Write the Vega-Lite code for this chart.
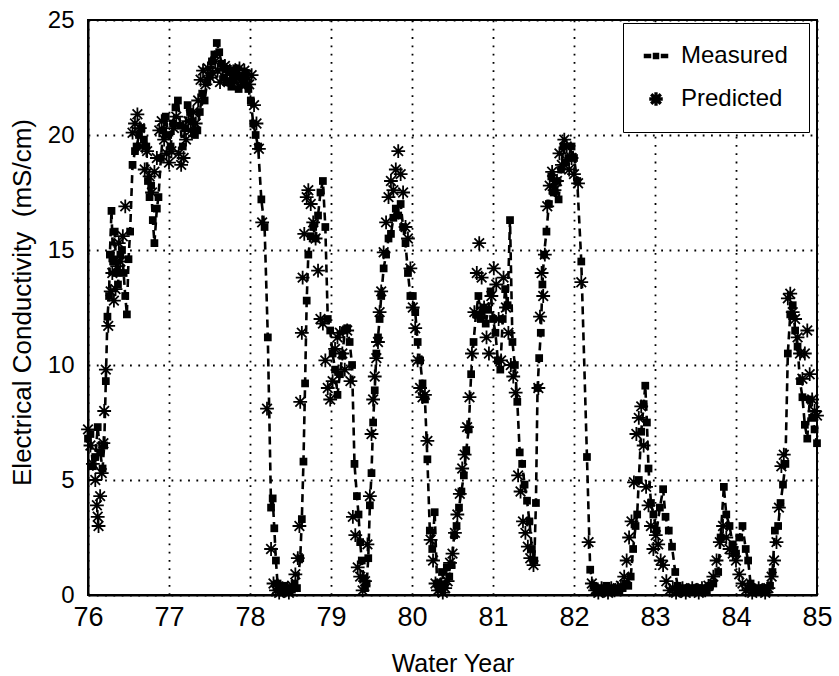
{
  "$schema": "https://vega.github.io/schema/vega-lite/v6.json",
  "width": 729,
  "height": 575,
  "autosize": "none",
  "padding": {"left": 88, "top": 20, "right": 22, "bottom": 81},
  "background": "white",
  "datasets": {
    "measured": [
      {"year": 76.00, "ec": 6.8}, {"year": 76.03, "ec": 7.0}, {"year": 76.06, "ec": 5.6}, {"year": 76.09, "ec": 6.0},
      {"year": 76.12, "ec": 7.3}, {"year": 76.15, "ec": 6.2}, {"year": 76.18, "ec": 5.5}, {"year": 76.20, "ec": 6.5},
      {"year": 76.22, "ec": 9.3}, {"year": 76.24, "ec": 12.1}, {"year": 76.26, "ec": 13.0}, {"year": 76.27, "ec": 14.8},
      {"year": 76.29, "ec": 16.7}, {"year": 76.31, "ec": 14.5}, {"year": 76.33, "ec": 15.8}, {"year": 76.35, "ec": 14.0},
      {"year": 76.37, "ec": 13.5}, {"year": 76.40, "ec": 14.8}, {"year": 76.42, "ec": 15.0}, {"year": 76.44, "ec": 14.0},
      {"year": 76.46, "ec": 13.0}, {"year": 76.48, "ec": 12.2}, {"year": 76.50, "ec": 14.6}, {"year": 76.52, "ec": 15.8},
      {"year": 76.55, "ec": 18.7}, {"year": 76.58, "ec": 19.3}, {"year": 76.60, "ec": 19.5}, {"year": 76.63, "ec": 20.0},
      {"year": 76.66, "ec": 20.3}, {"year": 76.69, "ec": 19.8}, {"year": 76.72, "ec": 19.5}, {"year": 76.74, "ec": 18.0},
      {"year": 76.76, "ec": 17.3}, {"year": 76.78, "ec": 17.8}, {"year": 76.80, "ec": 16.3}, {"year": 76.82, "ec": 15.3},
      {"year": 76.85, "ec": 16.8}, {"year": 76.87, "ec": 17.3}, {"year": 76.90, "ec": 19.0}, {"year": 76.93, "ec": 20.2},
      {"year": 76.96, "ec": 20.8}, {"year": 76.99, "ec": 20.0}, {"year": 77.02, "ec": 19.5}, {"year": 77.05, "ec": 20.5},
      {"year": 77.08, "ec": 21.2}, {"year": 77.11, "ec": 21.5}, {"year": 77.14, "ec": 20.4}, {"year": 77.17, "ec": 19.5},
      {"year": 77.20, "ec": 20.3}, {"year": 77.23, "ec": 21.3}, {"year": 77.26, "ec": 21.0}, {"year": 77.29, "ec": 20.6},
      {"year": 77.32, "ec": 20.0}, {"year": 77.35, "ec": 20.2}, {"year": 77.38, "ec": 21.0}, {"year": 77.41, "ec": 21.8},
      {"year": 77.44, "ec": 21.5}, {"year": 77.47, "ec": 22.3}, {"year": 77.50, "ec": 22.6}, {"year": 77.53, "ec": 23.2},
      {"year": 77.56, "ec": 23.5}, {"year": 77.59, "ec": 24.0}, {"year": 77.62, "ec": 23.6}, {"year": 77.65, "ec": 23.1},
      {"year": 77.68, "ec": 22.5}, {"year": 77.71, "ec": 22.3}, {"year": 77.74, "ec": 22.8}, {"year": 77.77, "ec": 22.1},
      {"year": 77.80, "ec": 22.4}, {"year": 77.83, "ec": 22.9}, {"year": 77.86, "ec": 22.0}, {"year": 77.89, "ec": 22.5},
      {"year": 77.92, "ec": 22.2}, {"year": 77.95, "ec": 22.7}, {"year": 77.98, "ec": 22.0}, {"year": 78.01, "ec": 21.5},
      {"year": 78.04, "ec": 20.5}, {"year": 78.07, "ec": 20.0}, {"year": 78.10, "ec": 19.5}, {"year": 78.14, "ec": 17.2},
      {"year": 78.18, "ec": 16.0}, {"year": 78.22, "ec": 11.2}, {"year": 78.26, "ec": 3.8}, {"year": 78.28, "ec": 4.2},
      {"year": 78.30, "ec": 2.9}, {"year": 78.32, "ec": 1.5}, {"year": 78.34, "ec": 0.5}, {"year": 78.37, "ec": 0.3},
      {"year": 78.40, "ec": 0.2}, {"year": 78.43, "ec": 0.4}, {"year": 78.46, "ec": 0.3}, {"year": 78.49, "ec": 0.2},
      {"year": 78.52, "ec": 0.3}, {"year": 78.55, "ec": 0.5}, {"year": 78.58, "ec": 0.3}, {"year": 78.62, "ec": 1.6},
      {"year": 78.64, "ec": 3.3}, {"year": 78.66, "ec": 5.8}, {"year": 78.68, "ec": 9.2}, {"year": 78.70, "ec": 12.8},
      {"year": 78.72, "ec": 14.8}, {"year": 78.75, "ec": 15.6}, {"year": 78.78, "ec": 16.0}, {"year": 78.81, "ec": 15.5},
      {"year": 78.84, "ec": 16.5}, {"year": 78.87, "ec": 17.5}, {"year": 78.90, "ec": 18.0}, {"year": 78.93, "ec": 16.0},
      {"year": 78.96, "ec": 12.0}, {"year": 78.99, "ec": 11.5}, {"year": 79.02, "ec": 10.5}, {"year": 79.05, "ec": 9.8},
      {"year": 79.08, "ec": 8.7}, {"year": 79.11, "ec": 9.6}, {"year": 79.14, "ec": 10.4}, {"year": 79.17, "ec": 11.5},
      {"year": 79.20, "ec": 11.6}, {"year": 79.23, "ec": 11.0}, {"year": 79.26, "ec": 10.0}, {"year": 79.29, "ec": 5.7},
      {"year": 79.32, "ec": 4.3}, {"year": 79.34, "ec": 3.5}, {"year": 79.36, "ec": 2.3}, {"year": 79.38, "ec": 1.5},
      {"year": 79.40, "ec": 0.7}, {"year": 79.42, "ec": 0.3}, {"year": 79.44, "ec": 0.5}, {"year": 79.46, "ec": 1.6},
      {"year": 79.48, "ec": 3.9}, {"year": 79.50, "ec": 5.3}, {"year": 79.52, "ec": 7.5}, {"year": 79.54, "ec": 8.9},
      {"year": 79.56, "ec": 10.5}, {"year": 79.58, "ec": 11.2}, {"year": 79.60, "ec": 12.0}, {"year": 79.62, "ec": 13.0},
      {"year": 79.65, "ec": 14.2}, {"year": 79.68, "ec": 14.8}, {"year": 79.71, "ec": 15.5}, {"year": 79.74, "ec": 15.7},
      {"year": 79.77, "ec": 16.4}, {"year": 79.80, "ec": 16.8}, {"year": 79.83, "ec": 16.5}, {"year": 79.86, "ec": 17.0},
      {"year": 79.89, "ec": 16.0}, {"year": 79.92, "ec": 15.3}, {"year": 79.95, "ec": 14.0}, {"year": 79.98, "ec": 13.0},
      {"year": 80.01, "ec": 13.0}, {"year": 80.04, "ec": 12.3}, {"year": 80.07, "ec": 11.0}, {"year": 80.10, "ec": 10.2},
      {"year": 80.13, "ec": 9.2}, {"year": 80.16, "ec": 8.5}, {"year": 80.19, "ec": 5.9}, {"year": 80.22, "ec": 2.8},
      {"year": 80.25, "ec": 2.0}, {"year": 80.28, "ec": 3.6}, {"year": 80.31, "ec": 0.5}, {"year": 80.34, "ec": 0.3},
      {"year": 80.37, "ec": 1.0}, {"year": 80.40, "ec": 0.4}, {"year": 80.43, "ec": 1.2}, {"year": 80.46, "ec": 0.8},
      {"year": 80.49, "ec": 1.3}, {"year": 80.52, "ec": 2.6}, {"year": 80.55, "ec": 3.0}, {"year": 80.58, "ec": 3.8},
      {"year": 80.61, "ec": 4.5}, {"year": 80.64, "ec": 5.2}, {"year": 80.67, "ec": 6.3}, {"year": 80.70, "ec": 7.2},
      {"year": 80.73, "ec": 9.6}, {"year": 80.76, "ec": 11.0}, {"year": 80.79, "ec": 12.2}, {"year": 80.82, "ec": 13.0},
      {"year": 80.85, "ec": 12.0}, {"year": 80.88, "ec": 12.5}, {"year": 80.91, "ec": 11.8}, {"year": 80.94, "ec": 12.4},
      {"year": 80.97, "ec": 13.2}, {"year": 81.00, "ec": 12.0}, {"year": 81.03, "ec": 11.4}, {"year": 81.06, "ec": 10.2},
      {"year": 81.09, "ec": 9.8}, {"year": 81.12, "ec": 12.0}, {"year": 81.15, "ec": 13.3}, {"year": 81.18, "ec": 12.6},
      {"year": 81.21, "ec": 16.3}, {"year": 81.24, "ec": 11.0}, {"year": 81.27, "ec": 10.0}, {"year": 81.30, "ec": 8.4},
      {"year": 81.33, "ec": 6.2}, {"year": 81.36, "ec": 5.7}, {"year": 81.39, "ec": 4.8}, {"year": 81.42, "ec": 4.1},
      {"year": 81.45, "ec": 3.2}, {"year": 81.48, "ec": 2.0}, {"year": 81.51, "ec": 1.5}, {"year": 81.53, "ec": 4.0},
      {"year": 81.55, "ec": 9.0}, {"year": 81.57, "ec": 10.3}, {"year": 81.59, "ec": 11.4}, {"year": 81.61, "ec": 13.5},
      {"year": 81.63, "ec": 14.8}, {"year": 81.66, "ec": 15.8}, {"year": 81.69, "ec": 17.0}, {"year": 81.72, "ec": 18.2},
      {"year": 81.75, "ec": 17.5}, {"year": 81.78, "ec": 18.0}, {"year": 81.81, "ec": 17.2}, {"year": 81.84, "ec": 18.5},
      {"year": 81.87, "ec": 19.5}, {"year": 81.90, "ec": 18.8}, {"year": 81.93, "ec": 19.0}, {"year": 81.97, "ec": 19.5},
      {"year": 82.00, "ec": 19.0}, {"year": 82.04, "ec": 18.0}, {"year": 82.09, "ec": 14.5}, {"year": 82.16, "ec": 6.0},
      {"year": 82.20, "ec": 1.1}, {"year": 82.24, "ec": 0.4}, {"year": 82.28, "ec": 0.2}, {"year": 82.32, "ec": 0.3},
      {"year": 82.36, "ec": 0.2}, {"year": 82.40, "ec": 0.4}, {"year": 82.44, "ec": 0.3}, {"year": 82.48, "ec": 0.2},
      {"year": 82.52, "ec": 0.3}, {"year": 82.56, "ec": 0.2}, {"year": 82.60, "ec": 0.3}, {"year": 82.64, "ec": 0.5},
      {"year": 82.67, "ec": 0.4}, {"year": 82.70, "ec": 0.8}, {"year": 82.73, "ec": 2.0}, {"year": 82.76, "ec": 3.0},
      {"year": 82.78, "ec": 3.5}, {"year": 82.80, "ec": 5.0}, {"year": 82.83, "ec": 7.1}, {"year": 82.86, "ec": 8.3},
      {"year": 82.88, "ec": 9.1}, {"year": 82.90, "ec": 7.5}, {"year": 82.92, "ec": 5.5}, {"year": 82.95, "ec": 4.0},
      {"year": 82.98, "ec": 3.5}, {"year": 83.02, "ec": 2.8}, {"year": 83.06, "ec": 3.8}, {"year": 83.10, "ec": 4.6},
      {"year": 83.13, "ec": 3.4}, {"year": 83.17, "ec": 2.8}, {"year": 83.21, "ec": 2.1}, {"year": 83.25, "ec": 1.0},
      {"year": 83.28, "ec": 0.4}, {"year": 83.32, "ec": 0.2}, {"year": 83.36, "ec": 0.3}, {"year": 83.40, "ec": 0.2},
      {"year": 83.44, "ec": 0.3}, {"year": 83.48, "ec": 0.2}, {"year": 83.52, "ec": 0.3}, {"year": 83.56, "ec": 0.2},
      {"year": 83.60, "ec": 0.3}, {"year": 83.64, "ec": 0.2}, {"year": 83.68, "ec": 0.4}, {"year": 83.72, "ec": 0.5},
      {"year": 83.78, "ec": 1.0}, {"year": 83.81, "ec": 2.5}, {"year": 83.85, "ec": 4.7}, {"year": 83.88, "ec": 3.5},
      {"year": 83.92, "ec": 3.0}, {"year": 83.96, "ec": 2.2}, {"year": 84.00, "ec": 1.8}, {"year": 84.04, "ec": 2.5},
      {"year": 84.08, "ec": 3.0}, {"year": 84.12, "ec": 2.0}, {"year": 84.15, "ec": 1.5}, {"year": 84.18, "ec": 0.5},
      {"year": 84.22, "ec": 0.2}, {"year": 84.26, "ec": 0.3}, {"year": 84.30, "ec": 0.2}, {"year": 84.34, "ec": 0.3},
      {"year": 84.38, "ec": 0.2}, {"year": 84.42, "ec": 0.4}, {"year": 84.45, "ec": 1.0}, {"year": 84.48, "ec": 2.8},
      {"year": 84.52, "ec": 3.0}, {"year": 84.55, "ec": 4.0}, {"year": 84.58, "ec": 4.8}, {"year": 84.61, "ec": 5.7},
      {"year": 84.64, "ec": 10.5}, {"year": 84.67, "ec": 12.2}, {"year": 84.70, "ec": 12.6}, {"year": 84.73, "ec": 11.5},
      {"year": 84.76, "ec": 10.8}, {"year": 84.79, "ec": 9.3}, {"year": 84.82, "ec": 8.6}, {"year": 84.85, "ec": 7.4},
      {"year": 84.88, "ec": 6.8}, {"year": 84.91, "ec": 8.5}, {"year": 84.94, "ec": 7.7}, {"year": 84.97, "ec": 7.2},
      {"year": 85.00, "ec": 6.6}
    ],
    "predicted": [
      {"year": 76.00, "ec": 7.2}, {"year": 76.03, "ec": 6.5}, {"year": 76.06, "ec": 5.7}, {"year": 76.09, "ec": 5.0},
      {"year": 76.11, "ec": 3.9}, {"year": 76.12, "ec": 3.4}, {"year": 76.13, "ec": 3.0}, {"year": 76.15, "ec": 4.3},
      {"year": 76.17, "ec": 5.3}, {"year": 76.19, "ec": 6.6}, {"year": 76.20, "ec": 8.0}, {"year": 76.22, "ec": 9.8},
      {"year": 76.25, "ec": 11.7}, {"year": 76.28, "ec": 13.2}, {"year": 76.30, "ec": 14.0}, {"year": 76.32, "ec": 12.8},
      {"year": 76.34, "ec": 13.3}, {"year": 76.36, "ec": 14.3}, {"year": 76.38, "ec": 15.3}, {"year": 76.40, "ec": 14.5},
      {"year": 76.43, "ec": 15.6}, {"year": 76.46, "ec": 16.9}, {"year": 76.55, "ec": 20.1}, {"year": 76.58, "ec": 20.5},
      {"year": 76.61, "ec": 20.9}, {"year": 76.64, "ec": 20.3}, {"year": 76.67, "ec": 19.5}, {"year": 76.70, "ec": 18.5},
      {"year": 76.73, "ec": 19.3}, {"year": 76.76, "ec": 18.2}, {"year": 76.79, "ec": 17.5}, {"year": 76.82, "ec": 18.4},
      {"year": 76.85, "ec": 19.0}, {"year": 76.88, "ec": 20.2}, {"year": 76.91, "ec": 20.6}, {"year": 76.94, "ec": 19.8},
      {"year": 76.97, "ec": 19.2}, {"year": 77.00, "ec": 18.8}, {"year": 77.03, "ec": 19.3}, {"year": 77.06, "ec": 20.3},
      {"year": 77.09, "ec": 20.8}, {"year": 77.12, "ec": 19.2}, {"year": 77.15, "ec": 18.7}, {"year": 77.18, "ec": 19.0},
      {"year": 77.21, "ec": 19.8}, {"year": 77.24, "ec": 20.6}, {"year": 77.27, "ec": 20.2}, {"year": 77.30, "ec": 21.0},
      {"year": 77.33, "ec": 20.5}, {"year": 77.36, "ec": 21.5}, {"year": 77.39, "ec": 22.4}, {"year": 77.42, "ec": 22.8},
      {"year": 77.45, "ec": 22.2}, {"year": 77.48, "ec": 22.9}, {"year": 77.51, "ec": 22.5}, {"year": 77.54, "ec": 22.7},
      {"year": 77.57, "ec": 23.2}, {"year": 77.60, "ec": 22.8}, {"year": 77.63, "ec": 22.3}, {"year": 77.66, "ec": 22.9},
      {"year": 77.69, "ec": 23.0}, {"year": 77.72, "ec": 22.4}, {"year": 77.75, "ec": 22.8}, {"year": 77.78, "ec": 22.6},
      {"year": 77.81, "ec": 22.3}, {"year": 77.84, "ec": 22.7}, {"year": 77.87, "ec": 22.9}, {"year": 77.90, "ec": 22.3},
      {"year": 77.93, "ec": 22.8}, {"year": 77.96, "ec": 22.5}, {"year": 77.99, "ec": 22.2}, {"year": 78.02, "ec": 22.6},
      {"year": 78.05, "ec": 21.3}, {"year": 78.08, "ec": 20.5}, {"year": 78.11, "ec": 19.4}, {"year": 78.15, "ec": 16.2},
      {"year": 78.21, "ec": 8.1}, {"year": 78.26, "ec": 2.0}, {"year": 78.29, "ec": 0.5}, {"year": 78.32, "ec": 0.2},
      {"year": 78.36, "ec": 0.1}, {"year": 78.40, "ec": 0.3}, {"year": 78.44, "ec": 0.2}, {"year": 78.48, "ec": 0.1},
      {"year": 78.52, "ec": 0.4}, {"year": 78.56, "ec": 0.9}, {"year": 78.59, "ec": 1.6}, {"year": 78.61, "ec": 3.0},
      {"year": 78.62, "ec": 8.4}, {"year": 78.64, "ec": 11.4}, {"year": 78.65, "ec": 13.8}, {"year": 78.67, "ec": 15.7},
      {"year": 78.70, "ec": 17.3}, {"year": 78.72, "ec": 17.6}, {"year": 78.75, "ec": 17.0}, {"year": 78.78, "ec": 16.2},
      {"year": 78.81, "ec": 15.5}, {"year": 78.84, "ec": 14.1}, {"year": 78.87, "ec": 12.0}, {"year": 78.90, "ec": 11.8},
      {"year": 78.93, "ec": 10.2}, {"year": 78.96, "ec": 9.0}, {"year": 78.99, "ec": 8.5}, {"year": 79.02, "ec": 9.3},
      {"year": 79.05, "ec": 10.7}, {"year": 79.08, "ec": 11.2}, {"year": 79.11, "ec": 11.4}, {"year": 79.14, "ec": 10.5},
      {"year": 79.17, "ec": 9.8}, {"year": 79.20, "ec": 11.5}, {"year": 79.24, "ec": 9.3}, {"year": 79.27, "ec": 3.4},
      {"year": 79.30, "ec": 2.6}, {"year": 79.33, "ec": 1.2}, {"year": 79.36, "ec": 0.8}, {"year": 79.39, "ec": 0.2},
      {"year": 79.42, "ec": 0.6}, {"year": 79.45, "ec": 2.2}, {"year": 79.48, "ec": 4.3}, {"year": 79.50, "ec": 7.0},
      {"year": 79.52, "ec": 8.5}, {"year": 79.54, "ec": 9.5}, {"year": 79.56, "ec": 10.3}, {"year": 79.58, "ec": 11.0},
      {"year": 79.60, "ec": 12.3}, {"year": 79.62, "ec": 13.2}, {"year": 79.65, "ec": 14.9}, {"year": 79.68, "ec": 16.2},
      {"year": 79.71, "ec": 17.3}, {"year": 79.74, "ec": 18.0}, {"year": 79.77, "ec": 17.6}, {"year": 79.80, "ec": 18.5},
      {"year": 79.83, "ec": 19.3}, {"year": 79.86, "ec": 18.3}, {"year": 79.89, "ec": 17.5}, {"year": 79.92, "ec": 16.0},
      {"year": 79.95, "ec": 15.5}, {"year": 79.98, "ec": 14.2}, {"year": 80.01, "ec": 12.5}, {"year": 80.04, "ec": 11.6},
      {"year": 80.07, "ec": 10.2}, {"year": 80.10, "ec": 9.0}, {"year": 80.13, "ec": 8.6}, {"year": 80.16, "ec": 8.7},
      {"year": 80.19, "ec": 6.7}, {"year": 80.23, "ec": 2.4}, {"year": 80.26, "ec": 1.5}, {"year": 80.29, "ec": 0.5},
      {"year": 80.32, "ec": 0.2}, {"year": 80.35, "ec": 0.4}, {"year": 80.38, "ec": 0.1}, {"year": 80.41, "ec": 0.3},
      {"year": 80.44, "ec": 0.6}, {"year": 80.47, "ec": 1.4}, {"year": 80.50, "ec": 1.8}, {"year": 80.53, "ec": 2.7},
      {"year": 80.56, "ec": 3.5}, {"year": 80.59, "ec": 4.4}, {"year": 80.62, "ec": 5.5}, {"year": 80.65, "ec": 6.1},
      {"year": 80.68, "ec": 7.3}, {"year": 80.71, "ec": 8.6}, {"year": 80.74, "ec": 10.5}, {"year": 80.77, "ec": 12.3},
      {"year": 80.80, "ec": 14.0}, {"year": 80.83, "ec": 15.3}, {"year": 80.86, "ec": 13.8}, {"year": 80.89, "ec": 12.5},
      {"year": 80.92, "ec": 11.2}, {"year": 80.95, "ec": 10.5}, {"year": 80.98, "ec": 13.0}, {"year": 81.01, "ec": 14.2},
      {"year": 81.04, "ec": 13.5}, {"year": 81.07, "ec": 12.0}, {"year": 81.10, "ec": 10.2}, {"year": 81.13, "ec": 13.8},
      {"year": 81.16, "ec": 12.5}, {"year": 81.19, "ec": 11.4}, {"year": 81.22, "ec": 10.0}, {"year": 81.25, "ec": 9.5},
      {"year": 81.28, "ec": 8.8}, {"year": 81.31, "ec": 5.2}, {"year": 81.34, "ec": 4.5}, {"year": 81.37, "ec": 3.2},
      {"year": 81.40, "ec": 2.7}, {"year": 81.43, "ec": 2.1}, {"year": 81.46, "ec": 1.6}, {"year": 81.50, "ec": 1.3},
      {"year": 81.56, "ec": 9.0}, {"year": 81.58, "ec": 12.1}, {"year": 81.60, "ec": 14.0}, {"year": 81.62, "ec": 13.0},
      {"year": 81.64, "ec": 14.8}, {"year": 81.67, "ec": 16.9}, {"year": 81.70, "ec": 17.8}, {"year": 81.73, "ec": 18.4},
      {"year": 81.76, "ec": 17.6}, {"year": 81.79, "ec": 18.0}, {"year": 81.82, "ec": 19.2}, {"year": 81.85, "ec": 18.7},
      {"year": 81.88, "ec": 19.8}, {"year": 81.91, "ec": 19.5}, {"year": 81.94, "ec": 18.5}, {"year": 81.97, "ec": 19.0},
      {"year": 82.00, "ec": 18.3}, {"year": 82.05, "ec": 17.9}, {"year": 82.09, "ec": 13.6}, {"year": 82.18, "ec": 2.3},
      {"year": 82.22, "ec": 0.5}, {"year": 82.26, "ec": 0.2}, {"year": 82.30, "ec": 0.1}, {"year": 82.34, "ec": 0.3},
      {"year": 82.38, "ec": 0.2}, {"year": 82.42, "ec": 0.1}, {"year": 82.46, "ec": 0.3}, {"year": 82.50, "ec": 0.2},
      {"year": 82.54, "ec": 0.3}, {"year": 82.58, "ec": 0.4}, {"year": 82.62, "ec": 0.8}, {"year": 82.65, "ec": 1.5},
      {"year": 82.68, "ec": 2.5}, {"year": 82.71, "ec": 3.2}, {"year": 82.74, "ec": 4.9}, {"year": 82.77, "ec": 7.0},
      {"year": 82.80, "ec": 7.7}, {"year": 82.83, "ec": 8.2}, {"year": 82.86, "ec": 6.5}, {"year": 82.89, "ec": 4.7},
      {"year": 82.92, "ec": 3.9}, {"year": 82.95, "ec": 3.0}, {"year": 82.98, "ec": 2.0}, {"year": 83.01, "ec": 2.6},
      {"year": 83.04, "ec": 2.2}, {"year": 83.07, "ec": 1.5}, {"year": 83.10, "ec": 1.3}, {"year": 83.14, "ec": 0.6},
      {"year": 83.18, "ec": 0.2}, {"year": 83.22, "ec": 0.3}, {"year": 83.26, "ec": 0.1}, {"year": 83.30, "ec": 0.2},
      {"year": 83.34, "ec": 0.3}, {"year": 83.38, "ec": 0.1}, {"year": 83.42, "ec": 0.2}, {"year": 83.46, "ec": 0.3},
      {"year": 83.50, "ec": 0.2}, {"year": 83.54, "ec": 0.1}, {"year": 83.58, "ec": 0.3}, {"year": 83.62, "ec": 0.2},
      {"year": 83.66, "ec": 0.4}, {"year": 83.72, "ec": 0.8}, {"year": 83.76, "ec": 1.5}, {"year": 83.80, "ec": 2.3},
      {"year": 83.84, "ec": 3.0}, {"year": 83.88, "ec": 2.5}, {"year": 83.92, "ec": 2.0}, {"year": 83.96, "ec": 1.8},
      {"year": 84.00, "ec": 1.5}, {"year": 84.04, "ec": 0.9}, {"year": 84.08, "ec": 0.5}, {"year": 84.12, "ec": 0.2},
      {"year": 84.16, "ec": 0.3}, {"year": 84.20, "ec": 0.1}, {"year": 84.24, "ec": 0.2}, {"year": 84.28, "ec": 0.3},
      {"year": 84.32, "ec": 0.2}, {"year": 84.36, "ec": 0.1}, {"year": 84.40, "ec": 0.3}, {"year": 84.44, "ec": 0.8},
      {"year": 84.47, "ec": 1.5}, {"year": 84.50, "ec": 2.3}, {"year": 84.53, "ec": 3.8}, {"year": 84.56, "ec": 5.6},
      {"year": 84.59, "ec": 6.1}, {"year": 84.64, "ec": 12.9}, {"year": 84.67, "ec": 13.1}, {"year": 84.70, "ec": 12.3},
      {"year": 84.73, "ec": 12.0}, {"year": 84.76, "ec": 11.2}, {"year": 84.79, "ec": 10.5}, {"year": 84.82, "ec": 9.4},
      {"year": 84.85, "ec": 10.5}, {"year": 84.88, "ec": 11.5}, {"year": 84.91, "ec": 9.6}, {"year": 84.94, "ec": 8.5},
      {"year": 84.97, "ec": 8.0}, {"year": 85.00, "ec": 7.8}
    ]
  },
  "encoding": {
    "x": {
      "field": "year",
      "type": "quantitative",
      "title": "Water Year",
      "scale": {"domain": [76, 85], "nice": false, "zero": false},
      "axis": {
        "values": [76, 77, 78, 79, 80, 81, 82, 83, 84, 85],
        "format": "d",
        "labelFontSize": 27,
        "labelPadding": 9,
        "titleFontSize": 25,
        "titlePadding": 21
      }
    },
    "y": {
      "field": "ec",
      "type": "quantitative",
      "title": "Electrical Conductivity\u00a0\u00a0(mS/cm)",
      "scale": {"domain": [0, 25], "nice": false},
      "axis": {
        "values": [0, 5, 10, 15, 20, 25],
        "labelFontSize": 24,
        "labelPadding": 14,
        "titleFontSize": 26,
        "titleY": 282,
        "titlePadding": 12
      }
    }
  },
  "layer": [
    {
      "data": {"name": "measured"},
      "mark": {"type": "line", "color": "black", "strokeWidth": 2.6, "strokeDash": [8, 5]},
      "encoding": {}
    },
    {
      "data": {"name": "measured"},
      "mark": {"type": "point", "shape": "square", "filled": true, "color": "black", "size": 60, "opacity": 1}
    },
    {
      "data": {"name": "predicted"},
      "mark": {
        "type": "point",
        "shape": "M-1,0L1,0M0,-1L0,1M-0.7,-0.7L0.7,0.7M-0.7,0.7L0.7,-0.7",
        "filled": false,
        "color": "black",
        "size": 190,
        "strokeWidth": 1.8,
        "opacity": 1
      }
    },
    {
      "data": {"name": "measured"},
      "mark": {"type": "point", "fill": "black", "stroke": "black", "strokeWidth": 2, "opacity": 0},
      "encoding": {
        "shape": {
          "datum": "Measured",
          "type": "nominal",
          "title": null,
          "scale": {
            "domain": ["Measured", "Predicted"],
            "range": [
              "M-0.5,-0.5H0.5V0.5H-0.5Z M-2.3,-0.3H-1.1V0.3H-2.3Z M1.1,-0.3H2.3V0.3H1.1Z",
              "M-1.2,-0.18H1.2V0.18H-1.2Z M-0.18,-1.2H0.18V1.2H-0.18Z M-0.723,-0.977L0.977,0.723L0.723,0.977L-0.977,-0.723Z M-0.723,0.977L-0.977,0.723L0.723,-0.977L0.977,-0.723Z"
            ]
          },
          "legend": {
            "orient": "none",
            "legendX": 535,
            "legendY": 3,
            "padding": 21,
            "strokeColor": "black",
            "fillColor": "white",
            "labelFontSize": 24,
            "labelColor": "black",
            "labelOffset": 13,
            "symbolSize": 100,
            "symbolOpacity": 1,
            "symbolFillColor": "black",
            "rowPadding": 19
          }
        }
      }
    }
  ],
  "config": {
    "font": "Liberation Sans",
    "view": {"stroke": "black", "strokeWidth": 2},
    "axis": {
      "domainColor": "black",
      "domainWidth": 2,
      "grid": true,
      "gridColor": "black",
      "gridDash": [1.8, 6.5],
      "gridWidth": 1.8,
      "gridOpacity": 1,
      "tickSize": 0,
      "labelFont": "Liberation Sans",
      "labelColor": "black",
      "labelFlush": false,
      "labelOverlap": false,
      "titleFont": "Liberation Sans",
      "titleFontWeight": "normal",
      "titleColor": "black"
    },
    "legend": {"labelFont": "Liberation Sans"}
  }
}
